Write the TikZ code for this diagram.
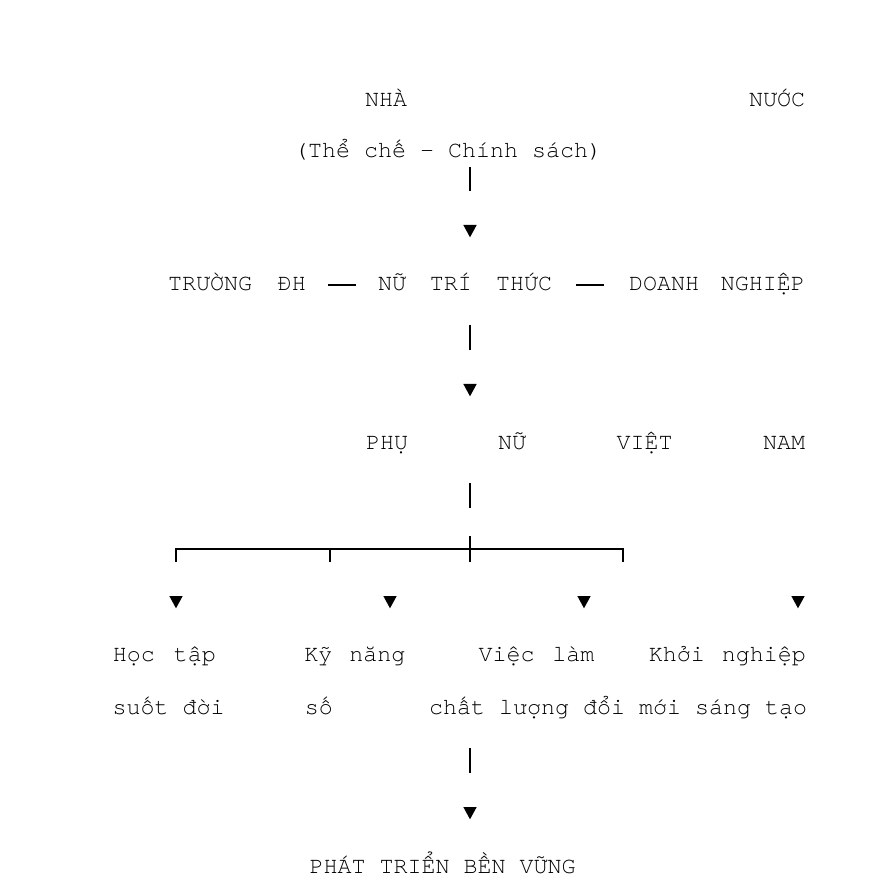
\documentclass[tikz,border=0pt]{standalone}
\usepackage{fontspec}
\newfontfamily\cour{TeX Gyre Cursor}
\usepackage{tikz}
\usetikzlibrary{positioning}

\newcommand\wsp[1]{\hspace{#1pt}}

\tikzset{
  txt/.style={anchor=base, inner sep=0pt, font=\cour\fontsize{17.5}{21}\selectfont},
  bar/.style={line width=1.5pt}
}

\begin{document}
\begin{tikzpicture}[x=0.75pt,y=-0.75pt]
  \useasboundingbox (0,0) rectangle (892,887);

  \node[txt] (nha) at (386,106.7) {NHÀ};
  \node[txt] (nuoc) at (777,106.7) {NƯỚC};
  \node[txt] (chinhsach) at (448,158) {(Thể chế - Chính sách)};

  \node[txt] (truong) at (237,290.7) {TRƯỜNG \wsp{9}ĐH};
  \node[txt] (nutrithuc) at (465,290.7) {NỮ \wsp{7.5}TRÍ \wsp{7.5}THỨC};
  \node[txt] (doanhnghiep) at (717,290.7) {DOANH \wsp{6}NGHIỆP};

  \node[txt] (phu) at (387,449.3) {PHỤ};
  \node[txt] (nu) at (512,449.3) {NỮ};
  \node[txt] (viet) at (644.5,449.3) {VIỆT};
  \node[txt] (nam) at (784,449.3) {NAM};

  \node[txt] (hoctap) at (164.4,661) {Học \wsp{3.75}tập};
  \node[txt] (kynang) at (354.8,661) {Kỹ \wsp{2.25}năng};
  \node[txt] (vieclam) at (536.5,661) {Việc \wsp{3}làm};
  \node[txt] (khoinghiep) at (727.3,661) {Khởi \wsp{2.25}nghiệp};
  \node[txt] (suotdoi) at (168.5,714) {suốt đời};
  \node[txt] (so) at (318.8,714) {số};
  \node[txt] (chatluong) at (618,714) {chất lượng đổi mới sáng tạo};

  \node[txt] (phattrien) at (442.5,873.3) {PHÁT TRIỂN BỀN VỮNG};

  % links between the three actors
  \draw[bar] (328,285) -- (356,285);
  \draw[bar] (576,285) -- (604,285);

  \foreach \y/\yy in {167/191, 325/350, 483/508, 536/562, 748/773}
    \draw[bar] (470,\y) -- (470,\yy);
  \draw[bar] (176,562) -- (176,549) -- (623.3,549) -- (623.3,562);
  \draw[bar] (330,549) -- (330,562);

  \foreach \x/\y in {470/231, 470/390, 470/813, 176/602, 390/602, 584/602, 798/602}
    \fill (\x-6.7,\y-6) -- (\x+6.7,\y-6) -- (\x,\y+6.3) -- cycle;
\end{tikzpicture}
\end{document}
